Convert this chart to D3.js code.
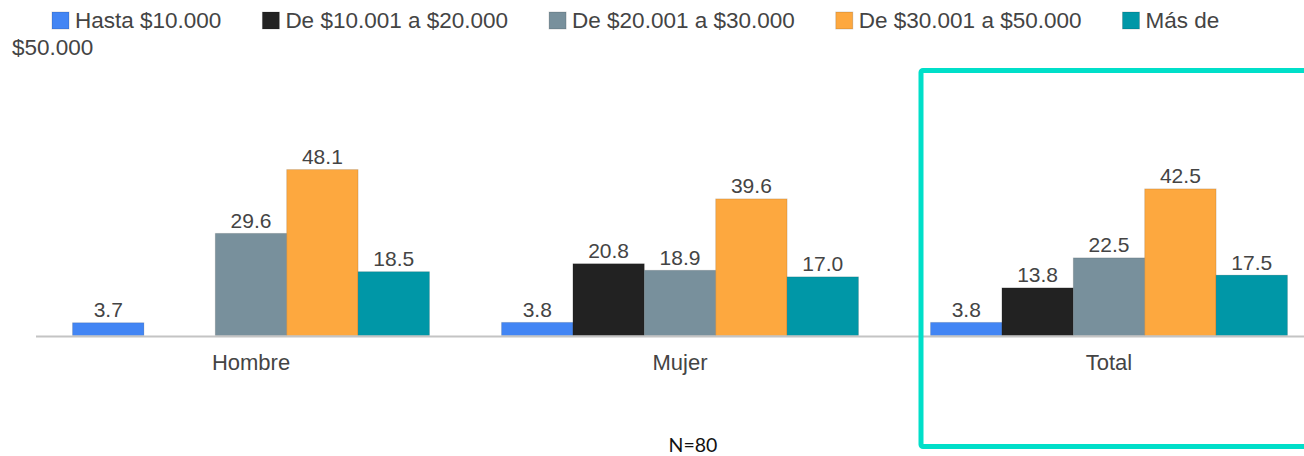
<!DOCTYPE html>
<html>
<head>
<meta charset="utf-8">
<script src="https://cdn.jsdelivr.net/npm/d3@7/dist/d3.min.js"></script>
<style>
  html, body { margin: 0; padding: 0; background: #fff; }
  svg { display: block; }
</style>
</head>
<body>
<svg id="chart" width="1304" height="456"></svg>
<script>
// --- data ---
const categories = ["Hombre", "Mujer", "Total"];
const seriesNames = ["Hasta $10.000", "De $10.001 a $20.000", "De $20.001 a $30.000", "De $30.001 a $50.000", "Más de $50.000"];
const seriesColors = ["#4285f4", "#222222", "#78909c", "#fda83f", "#0097a7"];
// values per series, in category order (Hombre, Mujer, Total); null = no bar
const hasta10 = [3.7, 3.8, 3.8];
const de10a20 = [null, 20.8, 13.8];
const de20a30 = [29.6, 18.9, 22.5];
const de30a50 = [48.1, 39.6, 42.5];
const masDe50 = [18.5, 17.0, 17.5];
const seriesValues = [hasta10, de10a20, de20a30, de30a50, masDe50];
const footnote = "N=80";

const svg = d3.select("#chart");
const font = "'Liberation Sans', Arial, sans-serif";
const textColor = "#444";

// --- scales ---
const x0 = d3.scaleBand()
    .domain(categories)
    .range([36.5, 1323.5])
    .paddingInner(0.168)
    .paddingOuter(0.084);

const x1 = d3.scaleBand()
    .domain(d3.range(seriesNames.length))
    .range([0, x0.bandwidth()]);

const y = d3.scaleLinear().domain([0, 60]).range([335.5, 128.5]);

// --- bars ---
const rows = [];
seriesValues.forEach((vals, s) => {
    vals.forEach((v, c) => {
        if (v !== null) rows.push({ s: s, cat: categories[c], v: v });
    });
});

const g = svg.append("g");

g.selectAll("rect.bar")
    .data(rows)
    .enter()
    .append("rect")
    .attr("class", "bar")
    .attr("x", d => x0(d.cat) + x1(d.s))
    .attr("y", d => y(d.v))
    .attr("width", x1.bandwidth())
    .attr("height", d => y(0) - y(d.v))
    .attr("fill", d => seriesColors[d.s])
    .attr("stroke", "rgba(0,0,0,0.12)")
    .attr("stroke-width", 1);

g.selectAll("text.val")
    .data(rows)
    .enter()
    .append("text")
    .attr("class", "val")
    .attr("x", d => x0(d.cat) + x1(d.s) + x1.bandwidth() / 2)
    .attr("y", d => y(d.v) - 5.5)
    .attr("text-anchor", "middle")
    .style("font-family", font)
    .style("font-size", "21px")
    .attr("fill", textColor)
    .text(d => d.v.toFixed(1));

// baseline
svg.append("line")
    .attr("x1", 36).attr("x2", 1304)
    .attr("y1", y(0) + 1).attr("y2", y(0) + 1)
    .attr("stroke", "#c4c4c4")
    .attr("stroke-width", 2);

// category labels
const xAxis = d3.axisBottom(x0).tickSize(0).tickPadding(0);
const axisG = svg.append("g")
    .attr("transform", `translate(0, ${y(0)})`)
    .call(xAxis);
axisG.select(".domain").remove();
axisG.selectAll("text")
    .attr("dy", null)
    .attr("y", 34.5)
    .style("font-family", font)
    .style("font-size", "22px")
    .attr("fill", textColor);

// --- legend (laid out from measured text widths, wraps like the original) ---
const legend = svg.append("g");
const sq = 17, textGap = 6, itemGap = 41, lineH = 27, maxX = 1290;
let lx = 52, ly = 28;
seriesNames.forEach((name, i) => {
    legend.append("rect")
        .attr("x", lx).attr("y", ly - 16)
        .attr("width", sq).attr("height", sq)
        .attr("fill", seriesColors[i])
        .attr("stroke", "rgba(0,0,0,0.15)");
    const t = legend.append("text")
        .attr("x", lx + sq + textGap)
        .attr("y", ly)
        .style("font-family", font)
        .style("font-size", "22.5px")
        .attr("fill", textColor);
    // word wrap into the space left on the line
    const words = name.split(" ");
    let line = [];
    let span = t.append("tspan").attr("x", lx + sq + textGap).attr("y", ly);
    let startX = lx + sq + textGap;
    let lastEnd = startX;
    words.forEach(w => {
        line.push(w);
        span.text(line.join(" "));
        if (startX + span.node().getComputedTextLength() > maxX && line.length > 1) {
            line.pop();
            span.text(line.join(" "));
            line = [w];
            ly += lineH;
            startX = 12;
            span = t.append("tspan").attr("x", startX).attr("y", ly).text(w);
        }
        lastEnd = startX + span.node().getComputedTextLength();
    });
    lx = lastEnd + itemGap;
});

// highlight box around "Total"
svg.append("rect")
    .attr("x", 921)
    .attr("y", 70.5)
    .attr("width", 500)
    .attr("height", 376)
    .attr("rx", 2)
    .attr("fill", "none")
    .attr("stroke", "#00dfc9")
    .attr("stroke-width", 5);

// footnote
svg.append("text")
    .attr("x", 693)
    .attr("y", 452)
    .attr("text-anchor", "middle")
    .style("font-family", "Lato, 'Open Sans', sans-serif")
    .style("font-size", "19.5px")
    .attr("fill", "#111")
    .text(footnote);
</script>
</body>
</html>
